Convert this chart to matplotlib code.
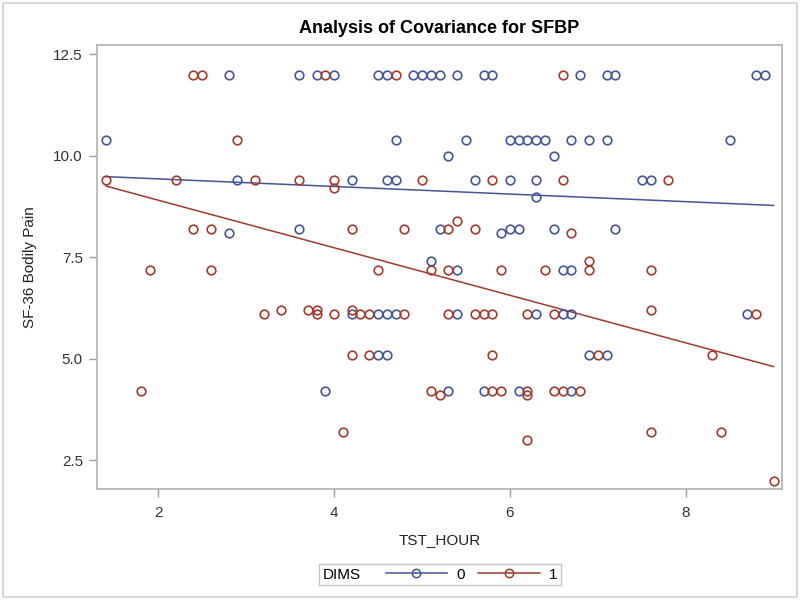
import matplotlib.pyplot as plt
from matplotlib.lines import Line2D
from matplotlib.offsetbox import HPacker
from matplotlib.patches import Rectangle

plt.rcParams['font.family'] = ['Liberation Sans', 'DejaVu Sans']

# DIMS = 0
tst0 = [2.8, 3.6, 3.8, 4.0, 4.5, 4.6, 4.9, 5.0, 5.1, 5.2, 5.4, 5.7, 5.8, 6.8, 7.1, 7.2, 8.8, 8.9,
        1.4, 4.7, 5.5, 6.0, 6.1, 6.2, 6.3, 6.4, 6.7, 6.9, 7.1, 8.5,
        5.3, 6.5,
        2.9, 4.2, 4.6, 4.7, 5.6, 6.0, 6.3, 7.5, 7.6,
        6.3,
        3.6, 5.2, 6.0, 6.1, 6.5, 7.2,
        2.8, 5.9,
        5.1,
        5.4, 6.6, 6.7,
        4.2, 4.5, 4.6, 4.7, 5.4, 6.3, 6.6, 6.7, 8.7,
        4.5, 4.6, 6.9, 7.1,
        3.9, 5.3, 5.7, 6.1, 6.7]
pain0 = [12.0, 12.0, 12.0, 12.0, 12.0, 12.0, 12.0, 12.0, 12.0, 12.0, 12.0, 12.0, 12.0, 12.0, 12.0, 12.0, 12.0, 12.0,
         10.4, 10.4, 10.4, 10.4, 10.4, 10.4, 10.4, 10.4, 10.4, 10.4, 10.4, 10.4,
         10.0, 10.0,
         9.4, 9.4, 9.4, 9.4, 9.4, 9.4, 9.4, 9.4, 9.4,
         9.0,
         8.2, 8.2, 8.2, 8.2, 8.2, 8.2,
         8.1, 8.1,
         7.4,
         7.2, 7.2, 7.2,
         6.1, 6.1, 6.1, 6.1, 6.1, 6.1, 6.1, 6.1, 6.1,
         5.1, 5.1, 5.1, 5.1,
         4.2, 4.2, 4.2, 4.2, 4.2]

# DIMS = 1
tst1 = [2.4, 2.5, 3.9, 4.7, 6.6,
        2.9,
        1.4, 2.2, 3.1, 3.6, 4.0, 5.0, 5.8, 6.6, 7.8,
        4.0,
        5.4,
        2.4, 2.6, 4.2, 4.8, 5.3, 5.6,
        6.7,
        6.9,
        1.9, 2.6, 4.5, 5.1, 5.3, 5.9, 6.4, 6.9, 7.6,
        3.4, 3.7, 3.8, 4.2, 7.6,
        3.2, 3.8, 4.0, 4.3, 4.4, 4.8, 5.3, 5.6, 5.7, 5.8, 6.2, 6.5, 8.8,
        4.2, 4.4, 5.8, 7.0, 8.3,
        1.8, 5.1, 5.8, 5.9, 6.2, 6.5, 6.6, 6.8,
        5.2, 6.2,
        4.1, 7.6, 8.4,
        6.2,
        9.0]
pain1 = [12.0, 12.0, 12.0, 12.0, 12.0,
         10.4,
         9.4, 9.4, 9.4, 9.4, 9.4, 9.4, 9.4, 9.4, 9.4,
         9.2,
         8.4,
         8.2, 8.2, 8.2, 8.2, 8.2, 8.2,
         8.1,
         7.4,
         7.2, 7.2, 7.2, 7.2, 7.2, 7.2, 7.2, 7.2, 7.2,
         6.2, 6.2, 6.2, 6.2, 6.2,
         6.1, 6.1, 6.1, 6.1, 6.1, 6.1, 6.1, 6.1, 6.1, 6.1, 6.1, 6.1, 6.1,
         5.1, 5.1, 5.1, 5.1, 5.1,
         4.2, 4.2, 4.2, 4.2, 4.2, 4.2, 4.2, 4.2,
         4.1, 4.1,
         3.2, 3.2, 3.2,
         3.0,
         2.0]

# ancova fitted lines
fit_x = [1.4, 9.0]
fit0 = [9.49, 8.78]
fit1 = [9.26, 4.81]

dims_labels = ['0', '1']
blue = '#445694'
red = '#A23A2E'

fig = plt.figure(figsize=(8, 6.01), dpi=100)
ax = fig.add_axes([0.121, 0.186, 0.857, 0.739])

ax.plot(fit_x, fit0, color=blue, lw=1.1, zorder=2)
ax.plot(fit_x, fit1, color=red, lw=1.1, zorder=2)
ax.plot(tst0, pain0, ls='none', marker='o', ms=6.2, mfc='none', mec=blue, mew=1.2, zorder=3)
ax.plot(tst1, pain1, ls='none', marker='o', ms=6.2, mfc='none', mec=red, mew=1.2, zorder=3)

ax.set_xlim(1.30, 9.10)
ax.set_ylim(1.79, 12.73)
ax.set_xticks([2, 4, 6, 8])
ax.set_yticks([2.5, 5.0, 7.5, 10.0, 12.5])
ax.set_yticklabels(['2.5', '5.0', '7.5', '10.0', '12.5'])
ax.tick_params(direction='out', length=6, width=1, color='#a0a0a0', labelsize=11, labelcolor='#333333')
ax.tick_params(axis='x', pad=6)
ax.tick_params(axis='y', pad=4)
for s in ax.spines.values():
    s.set_color('#b8b8b8')
    s.set_linewidth(1.3)

ax.set_xlabel('TST_HOUR', fontsize=11, color='#222222')
ax.set_ylabel('SF-36 Bodily Pain', fontsize=11, color='#222222')
ax.xaxis.set_label_coords(0.5, -0.099)
ax.yaxis.set_label_coords(-0.087, 0.5)

fig.text(0.549, 0.9456, 'Analysis of Covariance for SFBP', ha='center', va='baseline',
         fontsize=13, fontweight='bold', color='black')

handles = [Line2D([], [], color=blue, lw=1.1, marker='o', ms=6, mfc='none', mec=blue, mew=1.1),
           Line2D([], [], color=red, lw=1.1, marker='o', ms=6, mfc='none', mec=red, mew=1.1)]
leg = fig.legend(handles, dims_labels, title='DIMS', ncol=2, loc='center',
                 bbox_to_anchor=(0.55, 0.044), fontsize=11, title_fontsize=11,
                 frameon=True, fancybox=False, edgecolor='#c8c8c8', framealpha=1,
                 handlelength=4.0, handletextpad=0.6, columnspacing=0.9, borderpad=0.25)
leg.get_frame().set_linewidth(1.0)
# put the title beside the entries, like SAS does
leg._legend_box.__class__ = HPacker
leg._legend_box.sep = 18

fig.patches.append(Rectangle((0.0034, 0.007), 0.9932, 0.9885, transform=fig.transFigure,
                             fill=False, edgecolor='#d6d6d6', lw=1.5))

fig.savefig('out.png', dpi=100)
